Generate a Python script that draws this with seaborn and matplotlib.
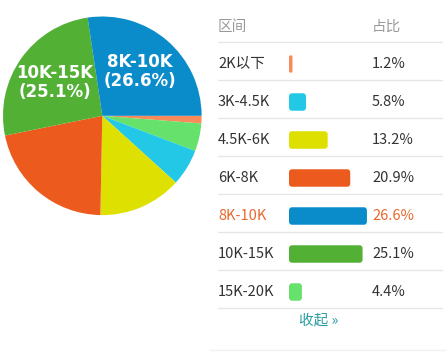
import numpy as np
import matplotlib
matplotlib.use("Agg")
import matplotlib.pyplot as plt
from matplotlib.patches import FancyBboxPatch
import seaborn as sns

# ---------------- data ----------------
categories = ["2K以下", "3K-4.5K", "4.5K-6K", "6K-8K", "8K-10K", "10K-15K", "15K-20K"]
shares = [1.2, 5.8, 13.2, 20.9, 26.6, 25.1, 4.4]
colors = ["#f98b5b", "#22c8e5", "#dde000", "#ec5a1d", "#0a8bca", "#52b034", "#66e26c"]
pie_order = ["2K以下", "15K-20K", "3K-4.5K", "4.5K-6K", "6K-8K", "10K-15K", "8K-10K"]
pie_labelled = ["8K-10K", "10K-15K"]
highlight = "8K-10K"
header_left = "区间"
header_right = "占比"
footer = "收起 »"

sns.set_theme(style="white")
plt.rcParams["font.family"] = ["Noto Sans CJK SC", "DejaVu Sans"]

W, H = 446, 359
fig = plt.figure(figsize=(W / 100, H / 100), dpi=100)
fig.patch.set_facecolor("white")

def fx(px):
    return px / W

def fy(py):
    return 1 - py / H

# ---------------- overlay for table text / lines ----------------
ov = fig.add_axes([0, 0, 1, 1])
ov.set_xlim(0, W)
ov.set_ylim(H, 0)
ov.axis("off")

# ---------------- pie ----------------
cx, cy, R = 102.3, 115.8, 99.3
axp = fig.add_axes([fx(cx - R), fy(cy + R), 2 * R / W, 2 * R / H])
share_of = dict(zip(categories, shares))
color_of = dict(zip(categories, colors))
vals = [share_of[c] for c in pie_order]
wedges, _ = axp.pie(vals, colors=[color_of[c] for c in pie_order], startangle=0,
                    counterclock=False, radius=1, wedgeprops=dict(linewidth=0))
axp.set_xlim(-1, 1)
axp.set_ylim(-1, 1)
axp.set_aspect("equal")
axp.axis("off")
for w, c in zip(wedges, pie_order):
    if c in pie_labelled:
        mid = np.deg2rad((w.theta1 + w.theta2) / 2)
        axp.text(0.585 * np.cos(mid), 0.585 * np.sin(mid), f"{c}\n({share_of[c]}%)",
                 ha="center", va="center", color="white", fontsize=12,
                 fontweight="bold", family="DejaVu Sans", linespacing=1.05)

# ---------------- bars ----------------
row0, step = 64, 38
px_per_pct = 2.93
bar_left = 289
bar_w_px = 100
axb = fig.add_axes([fx(bar_left), fy(row0 + step * 6.5), bar_w_px / W, step * 7 / H])
sns.barplot(x=shares, y=categories, hue=categories, palette=color_of, legend=False,
            saturation=1, width=0.46, orient="h", ax=axb)
axb.set_xlim(0, bar_w_px / px_per_pct)
axb.set_ylim(6.5, -0.5)
axb.axis("off")
m_aspect = (1 / step) / (1 / px_per_pct)
for p in list(axb.patches):
    x, y = p.get_x(), p.get_y()
    w, h = p.get_width(), p.get_height()
    fc = p.get_facecolor()
    p.remove()
    r = min(3 / px_per_pct, w / 2)
    axb.add_patch(FancyBboxPatch((x, y), w, h,
                                 boxstyle=f"round,pad=0,rounding_size={r}",
                                 mutation_aspect=m_aspect, fc=fc, ec="none"))

# ---------------- table text ----------------
fs = 10.5
ov.text(218, 27, header_left, color="#9a9a9a", fontsize=fs, va="center", ha="left")
ov.text(372, 27, header_right, color="#9a9a9a", fontsize=fs, va="center", ha="left")
ov.plot([218, 442], [42, 42], color="#e6e6e6", lw=1)
for i, (c, s) in enumerate(zip(categories, shares)):
    yc = row0 + step * i
    col = "#e8692e" if c == highlight else "#333333"
    ov.text(218, yc, c, color=col, fontsize=fs, va="center", ha="left")
    ov.text(372, yc, f"{s}%", color=col, fontsize=fs, va="center", ha="left")
    ov.plot([218, 442], [yc + 16, yc + 16], color="#e6e6e6", lw=1)
ov.text(299, 321, footer, color="#2a9ba0", fontsize=fs, va="center", ha="left")
ov.plot([210, 446], [350, 350], color="#f0f0f0", lw=1)

fig.savefig("out.png", dpi=100, facecolor="white")
